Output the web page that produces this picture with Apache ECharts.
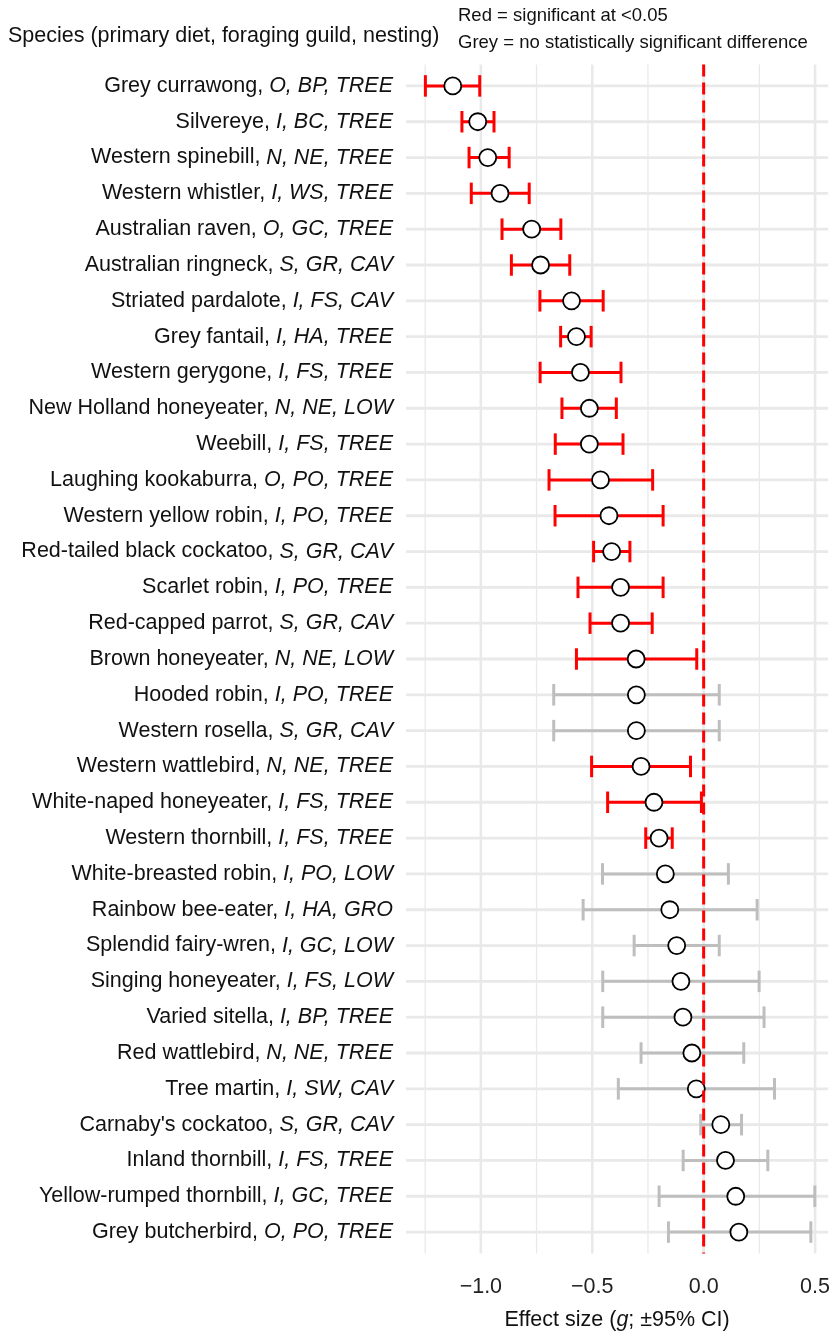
<!DOCTYPE html>
<html><head><meta charset="utf-8">
<script src="https://cdn.jsdelivr.net/npm/echarts@6/dist/echarts.min.js"></script>
<style>html,body{margin:0;padding:0;background:#fff}#c{width:833px;height:1336px}</style>
</head><body><div id="c"></div>
<script>
const species = ["Grey currawong","Silvereye","Western spinebill","Western whistler","Australian raven","Australian ringneck","Striated pardalote","Grey fantail","Western gerygone","New Holland honeyeater","Weebill","Laughing kookaburra","Western yellow robin","Red-tailed black cockatoo","Scarlet robin","Red-capped parrot","Brown honeyeater","Hooded robin","Western rosella","Western wattlebird","White-naped honeyeater","Western thornbill","White-breasted robin","Rainbow bee-eater","Splendid fairy-wren","Singing honeyeater","Varied sitella","Red wattlebird","Tree martin","Carnaby's cockatoo","Inland thornbill","Yellow-rumped thornbill","Grey butcherbird"];
const codes = ["O, BP, TREE","I, BC, TREE","N, NE, TREE","I, WS, TREE","O, GC, TREE","S, GR, CAV","I, FS, CAV","I, HA, TREE","I, FS, TREE","N, NE, LOW","I, FS, TREE","O, PO, TREE","I, PO, TREE","S, GR, CAV","I, PO, TREE","S, GR, CAV","N, NE, LOW","I, PO, TREE","S, GR, CAV","N, NE, TREE","I, FS, TREE","I, FS, TREE","I, PO, LOW","I, HA, GRO","I, GC, LOW","I, FS, LOW","I, BP, TREE","N, NE, TREE","I, SW, CAV","S, GR, CAV","I, FS, TREE","I, GC, TREE","O, PO, TREE"];
const estimate = [-1.126,-1.014,-0.969,-0.914,-0.772,-0.732,-0.593,-0.571,-0.553,-0.513,-0.513,-0.463,-0.425,-0.413,-0.373,-0.373,-0.303,-0.302,-0.302,-0.281,-0.223,-0.200,-0.172,-0.152,-0.121,-0.102,-0.093,-0.053,-0.033,0.077,0.098,0.144,0.158];
const lower = [-1.249,-1.085,-1.053,-1.043,-0.905,-0.863,-0.735,-0.642,-0.734,-0.636,-0.666,-0.694,-0.667,-0.494,-0.564,-0.510,-0.571,-0.673,-0.673,-0.503,-0.431,-0.260,-0.454,-0.541,-0.312,-0.453,-0.453,-0.281,-0.383,-0.013,-0.092,-0.200,-0.158];
const upper = [-1.005,-0.941,-0.873,-0.783,-0.641,-0.601,-0.451,-0.505,-0.371,-0.392,-0.362,-0.229,-0.182,-0.331,-0.182,-0.231,-0.031,0.070,0.070,-0.059,-0.010,-0.141,0.111,0.240,0.070,0.249,0.271,0.180,0.318,0.170,0.288,0.499,0.481];
const significant = [1,1,1,1,1,1,1,1,1,1,1,1,1,1,1,1,1,0,0,1,1,1,0,0,0,0,0,0,0,0,0,0,0];
const majorTicks = [-1.0, -0.5, 0.0, 0.5];
const minorTicks = [-1.25, -0.75, -0.25, 0.25];
const refLine = [0];
const xMin = -1.336, xMax = 0.559;

const FONT = '"Liberation Sans", Arial, Helvetica, sans-serif';
const RED = '#ff0000', GREY = '#bebebe', GRID = '#e9e9e9', TXT = '#111111';
const N = species.length;
const FS = 21.5;

function extendY(cs) { const band = cs.height / N; return [cs.y - 0.1 * band, cs.y + cs.height + 0.1 * band]; }

const chart = echarts.init(document.getElementById('c'), null, {renderer: 'canvas'});
const option = {
  animation: false,
  backgroundColor: '#ffffff',
  grid: {left: 406, right: 0, top: 68, height: 1189.3},
  xAxis: {
    type: 'value', min: xMin, max: xMax,
    axisLine: {show: false}, axisTick: {show: false, customValues: majorTicks}, splitLine: {show: false},
    axisLabel: {customValues: majorTicks, formatter: v => (v < 0 ? '\u2212' : '') + Math.abs(v).toFixed(1),
      fontSize: FS, color: '#222222', fontFamily: FONT, margin: 26},
    name: '{a|Effect size (}{b|g}{a|; \u00b195% CI)}', nameLocation: 'middle', nameGap: 59,
    nameTextStyle: {rich: {
      a: {fontSize: FS, color: TXT, fontFamily: FONT},
      b: {fontSize: FS, color: TXT, fontFamily: FONT, fontStyle: 'italic'}
    }}
  },
  yAxis: {
    type: 'category', inverse: true, data: species,
    axisLine: {show: false}, axisTick: {show: false}, splitLine: {show: false},
    axisLabel: {margin: 13, formatter: (v, i) => '{n|' + v + ', }{i|' + codes[i] + '}',
      rich: {
        n: {fontSize: FS, color: TXT, fontFamily: FONT},
        i: {fontSize: FS, color: TXT, fontFamily: FONT, fontStyle: 'italic'}
      }}
  },
  graphic: [
    {type: 'text', left: 8, top: 25, style: {text: 'Species (primary diet, foraging guild, nesting)', font: FS + 'px ' + FONT, fill: TXT}},
    {type: 'text', left: 458, top: 6, style: {text: 'Red = significant at <0.05', font: '18.5px ' + FONT, fill: TXT}},
    {type: 'text', left: 458, top: 33, style: {text: 'Grey = no statistically significant difference', font: '18.5px ' + FONT, fill: TXT}}
  ],
  series: [
    {
      type: 'custom', name: 'vgrid', silent: true, z: 1,
      data: majorTicks.map(v => [v, 1]).concat(minorTicks.map(v => [v, 0])),
      encode: {x: 0},
      renderItem: (params, api) => {
        const cs = params.coordSys;
        const x = api.coord([api.value(0), 0])[0];
        const ys = extendY(cs);
        return {type: 'line', shape: {x1: x, y1: ys[0], x2: x, y2: ys[1]},
          style: {stroke: GRID, lineWidth: api.value(1) ? 2.6 : 1.3}};
      }
    },
    {
      type: 'custom', name: 'hgrid', silent: true, z: 1,
      data: species.map((s, i) => [estimate[i], i]),
      encode: {x: 0, y: 1},
      renderItem: (params, api) => {
        const cs = params.coordSys;
        const y = api.coord([api.value(0), api.value(1)])[1];
        return {type: 'line', shape: {x1: cs.x, y1: y, x2: cs.x + cs.width, y2: y},
          style: {stroke: GRID, lineWidth: 2.8}};
      }
    },
    {
      type: 'custom', name: 'ci', silent: true, z: 2,
      data: lower.map((l, i) => [l, upper[i], i, significant[i]]),
      encode: {x: [0, 1], y: 2},
      renderItem: (params, api) => {
        const p1 = api.coord([api.value(0), api.value(2)]);
        const p2 = api.coord([api.value(1), api.value(2)]);
        const h = api.size([0, 1])[1] * 0.3;
        const col = api.value(3) ? RED : GREY;
        const st = {stroke: col, lineWidth: 3, lineCap: 'butt'};
        return {type: 'group', children: [
          {type: 'line', shape: {x1: p1[0], y1: p1[1], x2: p2[0], y2: p2[1]}, style: st},
          {type: 'line', shape: {x1: p1[0], y1: p1[1] - h, x2: p1[0], y2: p1[1] + h}, style: st},
          {type: 'line', shape: {x1: p2[0], y1: p2[1] - h, x2: p2[0], y2: p2[1] + h}, style: st}
        ]};
      }
    },
    {
      type: 'scatter', name: 'g', z: 3, silent: true,
      data: estimate.map((e, i) => [e, i]),
      symbol: 'circle', symbolSize: 17,
      itemStyle: {color: '#ffffff', borderColor: '#000000', borderWidth: 1.8, opacity: 1}
    },
    {
      type: 'custom', name: 'ref', silent: true, z: 4,
      data: refLine.map(v => [v]),
      encode: {x: 0},
      renderItem: (params, api) => {
        const cs = params.coordSys;
        const x = api.coord([api.value(0), 0])[0];
        const ys = extendY(cs);
        return {type: 'line', shape: {x1: x, y1: ys[0], x2: x, y2: ys[1]},
          style: {stroke: RED, lineWidth: 3, lineDash: [12, 6]}};
      }
    }
  ]
};
chart.setOption(option);
</script></body></html>
